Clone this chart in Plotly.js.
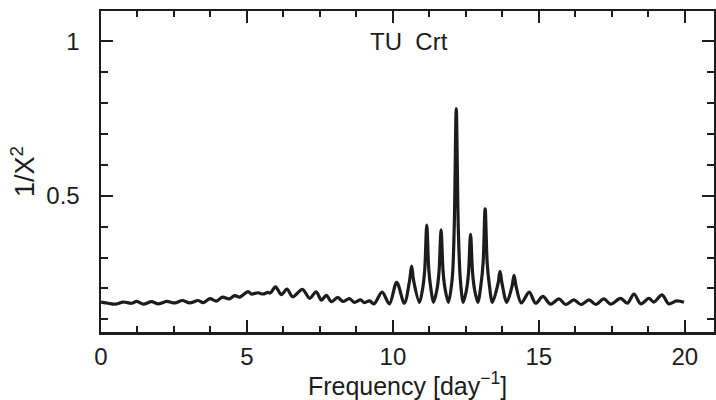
<!DOCTYPE html>
<html>
<head>
<meta charset="utf-8">
<script src="https://cdn.plot.ly/plotly-3.0.1.min.js"></script>
<style>html,body{margin:0;padding:0;background:#fff;}#chart{width:716px;height:400px;}</style>
</head>
<body>
<div id="chart"></div>
<script>
// Frequency grid (day^-1)
const freq = [
  0.00, 0.25, 0.48, 0.76, 1.05, 1.22, 1.45, 1.73, 1.96, 2.25,
  2.53, 2.79, 3.04, 3.33, 3.50, 3.73, 3.95, 4.16, 4.39, 4.58,
  4.75, 5.04, 5.15, 5.38, 5.55, 5.71, 5.80, 5.98, 6.18, 6.37,
  6.57, 6.90, 7.15, 7.37, 7.55, 7.72, 7.89, 8.11, 8.28, 8.51,
  8.68, 8.89, 9.03, 9.20, 9.35, 9.63, 9.88, 10.13, 10.39, 10.57,
  10.64, 10.71, 10.91, 11.02, 11.09, 11.16, 11.23, 11.30, 11.39, 11.51,
  11.58, 11.65, 11.72, 11.79, 11.90, 12.03, 12.10, 12.17, 12.24, 12.31,
  12.41, 12.52, 12.59, 12.66, 12.73, 12.80, 12.91, 13.02, 13.09, 13.16,
  13.23, 13.30, 13.41, 13.60, 13.67, 13.74, 13.90, 14.08, 14.15, 14.22,
  14.40, 14.67, 14.89, 15.14, 15.40, 15.69, 15.92, 16.20, 16.44, 16.72,
  16.95, 17.23, 17.46, 17.80, 18.03, 18.26, 18.49, 18.77, 18.94, 19.22,
  19.45, 19.72, 19.97
];
// 1/chi^2 values
const power = [
  0.156, 0.152, 0.149, 0.156, 0.152, 0.158, 0.149, 0.157, 0.150, 0.158,
  0.153, 0.161, 0.153, 0.161, 0.154, 0.167, 0.159, 0.172, 0.166, 0.177,
  0.172, 0.190, 0.182, 0.186, 0.182, 0.187, 0.185, 0.205, 0.180, 0.198,
  0.173, 0.197, 0.168, 0.189, 0.162, 0.178, 0.157, 0.171, 0.158, 0.167,
  0.155, 0.163, 0.154, 0.160, 0.150, 0.188, 0.150, 0.220, 0.152, 0.225,
  0.272, 0.225, 0.155, 0.200, 0.260, 0.405, 0.260, 0.200, 0.155, 0.197,
  0.254, 0.390, 0.254, 0.197, 0.155, 0.230, 0.395, 0.782, 0.395, 0.230,
  0.155, 0.195, 0.250, 0.375, 0.250, 0.195, 0.155, 0.215, 0.282, 0.458,
  0.282, 0.215, 0.155, 0.215, 0.255, 0.215, 0.155, 0.207, 0.242, 0.207,
  0.153, 0.188, 0.152, 0.174, 0.149, 0.166, 0.148, 0.163, 0.148, 0.163,
  0.148, 0.166, 0.149, 0.168, 0.152, 0.182, 0.150, 0.168, 0.156, 0.179,
  0.150, 0.160, 0.155
];
const xTickVals = [0, 5, 10, 15, 20];
const xTickText = ['0', '5', '10', '15', '20'];
const yTickVals = [0.5, 1];
const yTickText = ['0.5', '1'];
const chartTitle = 'TU  Crt';

const FONT = 'Liberation Sans, Arial, Helvetica, sans-serif';
const INK = '#1c1c1c';

const trace = {
  x: freq, y: power, type: 'scatter', mode: 'lines',
  line: {color: INK, width: 3.2, shape: 'spline', smoothing: 0.9},
  hoverinfo: 'skip'
};

const axisCommon = {
  showline: true, linecolor: INK, linewidth: 2.5, mirror: 'ticks',
  ticks: 'inside', tickcolor: INK, tickwidth: 2, ticklen: 12,
  showgrid: false, zeroline: false,
  tickfont: {family: FONT, size: 24, color: INK},
};

const layout = {
  width: 716, height: 400,
  margin: {l: 101, r: 2, t: 11, b: 68},
  paper_bgcolor: '#fff', plot_bgcolor: '#fff',
  showlegend: false,
  font: {family: FONT, color: INK},
  xaxis: Object.assign({}, axisCommon, {
    range: [0, 21], tickmode: 'array', tickvals: xTickVals, ticktext: xTickText,
    ticklabelstandoff: 2,
    minor: {dtick: 1.25, tick0: 0, ticks: 'inside', ticklen: 6, tickwidth: 2, tickcolor: INK, showgrid: false},
    title: {text: 'Frequency [day<sup>−1</sup>]', font: {family: FONT, size: 25, color: INK}, standoff: 2}
  }),
  yaxis: Object.assign({}, axisCommon, {
    range: [0.059, 1.098], tickmode: 'array', tickvals: yTickVals, ticktext: yTickText,
    ticklabelstandoff: 14,
    minor: {dtick: 0.1, tick0: 0, ticks: 'inside', ticklen: 7, tickwidth: 2, tickcolor: INK, showgrid: false},
    title: {text: '1/X<sup>2</sup>', font: {family: FONT, size: 27, color: INK}, standoff: 4}
  }),
  annotations: [{
    text: chartTitle, xref: 'paper', yref: 'paper', x: 0.502, y: 0.905,
    xanchor: 'center', yanchor: 'middle', showarrow: false,
    font: {family: FONT, size: 24, color: INK}
  }]
};

Plotly.newPlot('chart', [trace], layout, {staticPlot: true, displayModeBar: false});
</script>
</body>
</html>
